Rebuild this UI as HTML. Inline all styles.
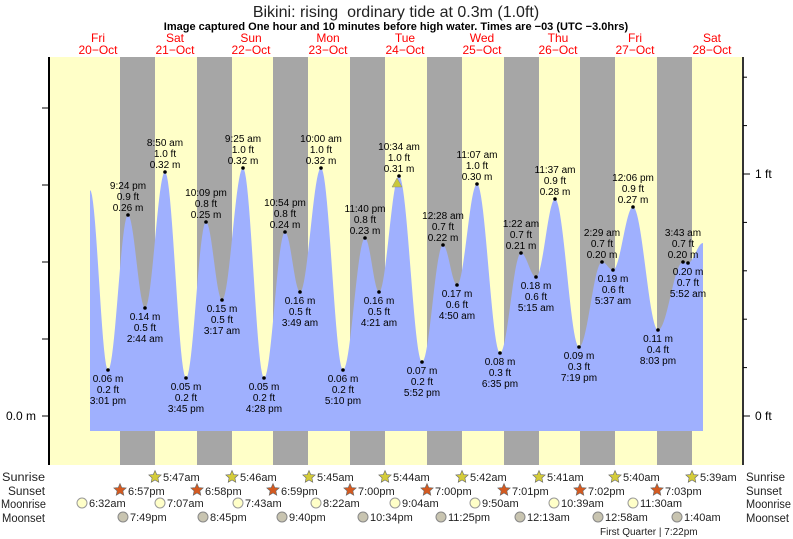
<!DOCTYPE html>
<html><head><meta charset="utf-8"><style>
body{margin:0;background:#fff;width:793px;height:539px;overflow:hidden}
svg{display:block;font-family:"Liberation Sans",sans-serif}
</style></head><body>
<svg id="s" width="793" height="539" xmlns="http://www.w3.org/2000/svg">
<rect x="49" y="57" width="694" height="408" fill="#ffffc8"/>
<g fill="#a6a6a6">
<rect x="120" y="57" width="35" height="408"/><rect x="197" y="57" width="35" height="408"/>
<rect x="273" y="57" width="35" height="408"/><rect x="350" y="57" width="35" height="408"/>
<rect x="427" y="57" width="35" height="408"/><rect x="504" y="57" width="35" height="408"/>
<rect x="580" y="57" width="35" height="408"/><rect x="657" y="57" width="35" height="408"/>
</g>
<path id="tide" fill="#9fb0fe" d=""/>
<line x1="49" y1="57" x2="49" y2="465" stroke="#000" stroke-width="2"/>
<line x1="743" y1="57" x2="743" y2="465" stroke="#333" stroke-width="2"/>
<g id="ticks" stroke="#000"></g>
<text x="396" y="17" font-size="16" text-anchor="middle" fill="#222" xml:space="preserve">Bikini: rising  ordinary tide at 0.3m (1.0ft)</text>
<text x="396" y="30" font-size="11" font-weight="bold" text-anchor="middle">Image captured One hour and 10 minutes before high water. Times are −03 (UTC −3.0hrs)</text>
<g font-size="12" fill="#f00" text-anchor="middle">
<text x="98" y="42">Fri</text><text x="98" y="54">20−Oct</text>
<text x="175" y="42">Sat</text><text x="175" y="54">21−Oct</text>
<text x="251" y="42">Sun</text><text x="251" y="54">22−Oct</text>
<text x="328" y="42">Mon</text><text x="328" y="54">23−Oct</text>
<text x="405" y="42">Tue</text><text x="405" y="54">24−Oct</text>
<text x="482" y="42">Wed</text><text x="482" y="54">25−Oct</text>
<text x="558" y="42">Thu</text><text x="558" y="54">26−Oct</text>
<text x="635" y="42">Fri</text><text x="635" y="54">27−Oct</text>
<text x="712" y="42">Sat</text><text x="712" y="54">28−Oct</text>
</g>
<text x="36" y="420" font-size="12" text-anchor="end">0.0 m</text>
<text x="755" y="420" font-size="12">0 ft</text>
<text x="755" y="178" font-size="12">1 ft</text>
<polygon points="397,178 392,187 402,187" fill="#c8c83a" stroke="#888" stroke-width="0.5"/>
<g id="labels" font-size="10" text-anchor="middle" fill="#000"></g>
<g font-size="11.5" fill="#222">
<text x="2" y="481" textLength="43" lengthAdjust="spacingAndGlyphs">Sunrise</text>
<text x="8" y="495" textLength="37" lengthAdjust="spacingAndGlyphs">Sunset</text>
<text x="1" y="508" textLength="45" lengthAdjust="spacingAndGlyphs">Moonrise</text>
<text x="2" y="522" textLength="43" lengthAdjust="spacingAndGlyphs">Moonset</text>
<text x="746" y="481">Sunrise</text><text x="746" y="495">Sunset</text>
<text x="746" y="508" textLength="45" lengthAdjust="spacingAndGlyphs">Moonrise</text><text x="746" y="522" textLength="43" lengthAdjust="spacingAndGlyphs">Moonset</text>
</g>
<g id="astro" font-size="11" fill="#222"></g>
<text x="600" y="535" font-size="10" fill="#222">First Quarter | 7:22pm</text>
</svg>
<script>
var N="http://www.w3.org/2000/svg";
function el(t,a,p,txt){var e=document.createElementNS(N,t);for(var k in a)e.setAttribute(k,a[k]);if(txt)e.textContent=txt;p.appendChild(e);return e;}
var pts=[[90,190,null],
[108,370,["0.06 m","0.2 ft","3:01 pm"],0],
[128,215,["9:24 pm","0.9 ft","0.26 m"],1],
[145,308,["0.14 m","0.5 ft","2:44 am"],0],
[165,172,["8:50 am","1.0 ft","0.32 m"],1],
[186,378,["0.05 m","0.2 ft","3:45 pm"],0],
[206,222,["10:09 pm","0.8 ft","0.25 m"],1],
[222,300,["0.15 m","0.5 ft","3:17 am"],0],
[243,168,["9:25 am","1.0 ft","0.32 m"],1],
[264,378,["0.05 m","0.2 ft","4:28 pm"],0],
[285,232,["10:54 pm","0.8 ft","0.24 m"],1],
[300,292,["0.16 m","0.5 ft","3:49 am"],0],
[321,168,["10:00 am","1.0 ft","0.32 m"],1],
[343,370,["0.06 m","0.2 ft","5:10 pm"],0],
[365,238,["11:40 pm","0.8 ft","0.23 m"],1],
[379,292,["0.16 m","0.5 ft","4:21 am"],0],
[399,176,["10:34 am","1.0 ft","0.31 m"],1],
[422,362,["0.07 m","0.2 ft","5:52 pm"],0],
[443,245,["12:28 am","0.7 ft","0.22 m"],1],
[457,285,["0.17 m","0.6 ft","4:50 am"],0],
[477,184,["11:07 am","1.0 ft","0.30 m"],1],
[500,353,["0.08 m","0.3 ft","6:35 pm"],0],
[521,253,["1:22 am","0.7 ft","0.21 m"],1],
[536,277,["0.18 m","0.6 ft","5:15 am"],0],
[555,199,["11:37 am","0.9 ft","0.28 m"],1],
[579,347,["0.09 m","0.3 ft","7:19 pm"],0],
[602,262,["2:29 am","0.7 ft","0.20 m"],1],
[613,270,["0.19 m","0.6 ft","5:37 am"],0],
[633,207,["12:06 pm","0.9 ft","0.27 m"],1],
[658,330,["0.11 m","0.4 ft","8:03 pm"],0],
[683,262,["3:43 am","0.7 ft","0.20 m"],1],
[688,263,["0.20 m","0.7 ft","5:52 am"],0],
[703,243,null]];
var d="M90,431 L90,190";
for(var i=1;i<pts.length;i++){var a=pts[i-1],b=pts[i];var n=Math.max(2,Math.round((b[0]-a[0])));
for(var j=1;j<=n;j++){var t=j/n;var y=a[1]+(b[1]-a[1])*(1-Math.cos(Math.PI*t))/2;d+=" L"+(a[0]+(b[0]-a[0])*t).toFixed(1)+","+y.toFixed(1);}}
d+=" L703,431 Z";document.getElementById("tide").setAttribute("d",d);
var L=document.getElementById("labels");
pts.forEach(function(p){if(!p[2])return;el("circle",{cx:p[0],cy:p[1],r:1.8,fill:"#000"},L);
var ys=p[3]?[p[1]-26,p[1]-15,p[1]-4]:[p[1]+12,p[1]+23,p[1]+34];
p[2].forEach(function(s,k){el("text",{x:p[0],y:ys[k]},L,s);});});
var T=document.getElementById("ticks");
for(var k=0;k<5;k++){var y=416-77*k;el("line",{x1:42,y1:y,x2:49,y2:y},T);}
for(var k=0;k<8;k++){var y=416-48.4*k;var big=(k==0||k==5);el("line",{x1:743,y1:y,x2:big?750:747,y2:y},T);}
var A=document.getElementById("astro");
function star(cx,cy,f){var s="";for(var k=0;k<10;k++){var r=k%2?3:6.5,an=-Math.PI/2+k*Math.PI/5;s+=(cx+r*Math.cos(an)).toFixed(1)+","+(cy+r*Math.sin(an)).toFixed(1)+" ";}
el("polygon",{points:s,fill:f,stroke:"#666","stroke-width":0.6},A);}
[[155,"5:47am"],[232,"5:46am"],[309,"5:45am"],[385,"5:44am"],[462,"5:42am"],[539,"5:41am"],[615,"5:40am"],[692,"5:39am"]].forEach(function(q){star(q[0],477,"#d4cc3a");el("text",{x:q[0]+8,y:481},A,q[1]);});
[[120,"6:57pm"],[197,"6:58pm"],[273,"6:59pm"],[350,"7:00pm"],[427,"7:00pm"],[504,"7:01pm"],[580,"7:02pm"],[657,"7:03pm"]].forEach(function(q){star(q[0],490,"#d45a20");el("text",{x:q[0]+8,y:495},A,q[1]);});
[[82,"6:32am"],[160,"7:07am"],[238,"7:43am"],[316,"8:22am"],[395,"9:04am"],[475,"9:50am"],[554,"10:39am"],[633,"11:30am"]].forEach(function(q){el("circle",{cx:q[0],cy:503,r:5,fill:"#ffffc8",stroke:"#999"},A);el("text",{x:q[0]+7,y:507},A,q[1]);});
[[123,"7:49pm"],[203,"8:45pm"],[282,"9:40pm"],[363,"10:34pm"],[441,"11:25pm"],[520,"12:13am"],[598,"12:58am"],[677,"1:40am"]].forEach(function(q){el("circle",{cx:q[0],cy:517,r:5,fill:"#c8c4b0",stroke:"#888"},A);el("text",{x:q[0]+7,y:521},A,q[1]);});
</script>
</body></html>
